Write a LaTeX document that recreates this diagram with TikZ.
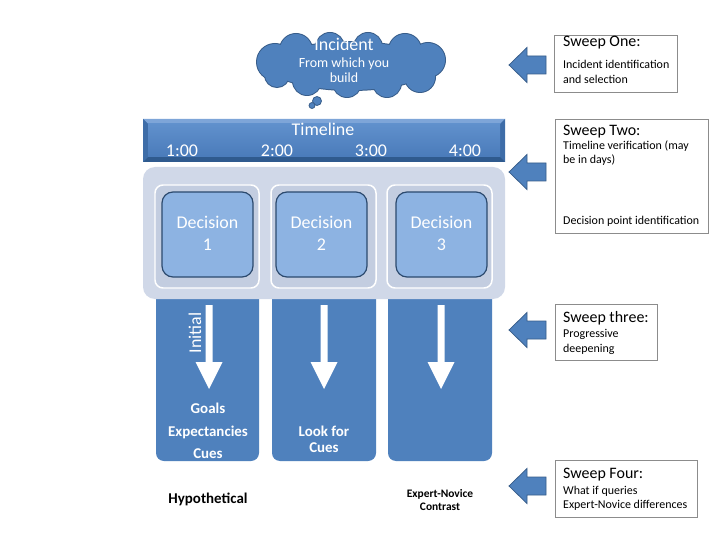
\documentclass[tikz,border=0pt]{standalone}
\usepackage{fontspec}
\setmainfont{Carlito}
\definecolor{mainblue}{HTML}{4F81BD}
\definecolor{edgeblue}{HTML}{385D8A}
\definecolor{contfill}{HTML}{D0D8E8}
\definecolor{subfill}{HTML}{C3CDE0}
\definecolor{decfill}{HTML}{8DB3E2}
\definecolor{decedge}{HTML}{2C4A6E}
\definecolor{boxedge}{HTML}{8C8C8C}
\definecolor{bevtop}{HTML}{7EA5D8}
\definecolor{bevside}{HTML}{3E6DA8}
\definecolor{bevbot}{HTML}{2F5A8E}
\definecolor{facetop}{HTML}{6090CC}
\definecolor{facebot}{HTML}{4A7BBA}
\tikzset{
  txt/.style={inner sep=0pt, anchor=base},
  ltxt/.style={inner sep=0pt, anchor=base west},
  sz/.style={font=\fontsize{#1}{#1}\selectfont},
  bsz/.style={font=\fontsize{#1}{#1}\selectfont\bfseries},
  sweepbox/.style={draw=boxedge, line width=0.75pt, fill=white},
  blockarrow/.style={fill=mainblue, draw=edgeblue, line width=0.75pt},
  column/.style={fill=mainblue, rounded corners=8bp},
  subbox/.style={fill=subfill, draw=white, line width=1.5pt, rounded corners=8bp},
  decbox/.style={fill=decfill, draw=decedge, line width=1.2pt, rounded corners=11bp},
}
\begin{document}
\begin{tikzpicture}[x=1bp,y=-1bp]
\useasboundingbox (0,0) rectangle (720,540);
\fill[white] (0,0) rectangle (720,540);

% columns
\foreach \a/\b in {156/259, 272/376, 388/492}{
  \fill[column] (\a,285) rectangle (\b,461);
}
% white arrows
\foreach \c in {209, 324, 441}{
  \fill[white] (\c-3.5,305) -- (\c+3.5,305) -- (\c+3.5,362) -- (\c+13.5,362)
     -- (\c,389) -- (\c-13.5,362) -- (\c-3.5,362) -- cycle;
}
% container
\fill[contfill, rounded corners=12bp] (143,167) rectangle (505,299);
% sub boxes and decisions
\draw[subbox] (155,185) rectangle (259,288);
\draw[subbox] (271,185) rectangle (376,288);
\draw[subbox] (387,185) rectangle (492,288);
\draw[decbox] (162,192) rectangle (253,277);
\draw[decbox] (276,192) rectangle (367,277);
\draw[decbox] (396,192) rectangle (487,277);
\node[txt, sz=18, text=white] (d1a) at (207.5,229) {Decision};
\node[txt, sz=18, text=white] (d1b) at (207.5,251) {1};
\node[txt, sz=18, text=white] (d2a) at (321.5,229) {Decision};
\node[txt, sz=18, text=white] (d2b) at (321.5,251) {2};
\node[txt, sz=18, text=white] (d3a) at (441.5,229) {Decision};
\node[txt, sz=18, text=white] (d3b) at (441.5,251) {3};

% timeline banner
\fill[mainblue] (143,119) rectangle (505,162);
\fill[bevtop] (143,119) -- (505,119) -- (500,124) -- (148,124) -- cycle;
\fill[bevside] (143,119) -- (148,124) -- (148,157) -- (143,162) -- cycle;
\fill[bevside] (505,119) -- (505,162) -- (500,157) -- (500,124) -- cycle;
\fill[bevbot] (143,162) -- (505,162) -- (500,157) -- (148,157) -- cycle;
\shade[top color=facetop, bottom color=facebot] (148,124) rectangle (500,157);
\node[txt, sz=18, text=white] (tl) at (323,135.5) {Timeline};
\node[txt, sz=18, text=white] (t1) at (182,157) {1:00};
\node[txt, sz=18, text=white] (t2) at (277,157) {2:00};
\node[txt, sz=18, text=white] (t3) at (371,157) {3:00};
\node[txt, sz=18, text=white] (t4) at (465,157) {4:00};

% cloud (union of puffs: outline first, then fill)
\def\puffs{351/66/80/24, 275/62/18/18, 296/50/16/16, 330/47/14/14, 368/47/14/14,
  405/50/16/16, 428/60/17/17, 420/77/15/15, 387/83/14/14, 347/83/14/14,
  307/81/14/14, 277/75/12/12}
\foreach \px/\py/\rx/\ry in \puffs{
  \draw[edgeblue, line width=2pt] (\px,\py) ellipse [x radius=\rx, y radius=\ry];
}
\foreach \px/\py/\rx/\ry in \puffs{
  \fill[mainblue] (\px,\py) ellipse [x radius=\rx, y radius=\ry];
}
\filldraw[fill=mainblue, draw=edgeblue, line width=0.8pt] (317,101) circle (4.5bp);
\filldraw[fill=mainblue, draw=edgeblue, line width=0.8pt] (312,105.5) circle (3bp);
\node[txt, sz=18, text=white] (inc1) at (344,51) {Incident};
\node[txt, sz=14, text=white] (inc2) at (344,67.5) {From which you};
\node[txt, sz=14, text=white] (inc3) at (344,83) {build};

% column texts
\node[txt, sz=18, text=white, rotate=90] (init) at (201,333) {Initial};
\node[txt, bsz=15, text=white] (g1) at (208,413) {Goals};
\node[txt, bsz=15, text=white] (g2) at (208,436) {Expectancies};
\node[txt, bsz=15, text=white] (g3) at (208,458) {Cues};
\node[txt, bsz=15, text=white] (l1) at (324,436) {Look for};
\node[txt, bsz=15, text=white] (l2) at (324,452) {Cues};
\node[txt, bsz=15, text=black] (hyp) at (208,503) {Hypothetical};
\node[txt, bsz=11.5, text=black] (en1) at (440,497) {Expert-Novice};
\node[txt, bsz=11.5, text=black] (en2) at (440,510) {Contrast};

% block arrows
\foreach \c/\n in {65/a1, 172/a2, 330/a3, 486/a4}{
  \filldraw[blockarrow] (509,\c) -- (527,\c-17.5) -- (527,\c-9) -- (546,\c-9)
    -- (546,\c+9) -- (527,\c+9) -- (527,\c+17.5) -- cycle;
}

% sweep boxes
\draw[sweepbox] (554,35) rectangle (677,92);
\node[ltxt, sz=16] (s1t) at (563,47) {Sweep One:};
\node[ltxt, sz=12] (s1a) at (563,69) {Incident identification};
\node[ltxt, sz=12] (s1b) at (563,84) {and selection};

\draw[sweepbox] (555,119) rectangle (708,233);
\node[ltxt, sz=16] (s2t) at (563,136) {Sweep Two:};
\node[ltxt, sz=12] (s2a) at (563,150) {Timeline verification (may};
\node[ltxt, sz=12] (s2b) at (563,164) {be in days)};
\node[ltxt, sz=12] (s2c) at (563,225) {Decision point identification};

\draw[sweepbox] (555,304) rectangle (657,360);
\node[ltxt, sz=16] (s3t) at (563,322) {Sweep three:};
\node[ltxt, sz=12] (s3a) at (563,337) {Progressive};
\node[ltxt, sz=12] (s3b) at (563,352) {deepening};

\draw[sweepbox] (555,460) rectangle (697,517);
\node[ltxt, sz=16] (s4t) at (563,478) {Sweep Four:};
\node[ltxt, sz=12] (s4a) at (563,494) {What if queries};
\node[ltxt, sz=12] (s4b) at (563,508) {Expert-Novice differences};
\end{tikzpicture}
\end{document}
